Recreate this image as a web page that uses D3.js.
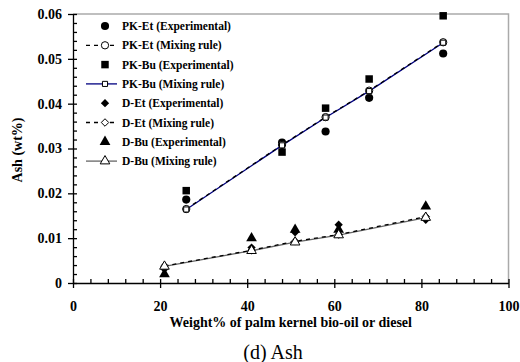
<!DOCTYPE html>
<html>
<head>
<meta charset="utf-8">
<script src="https://cdn.jsdelivr.net/npm/d3@7"></script>
<style>
  body { margin: 0; background: #fff; }
  svg text { font-family: "Liberation Serif", "Times New Roman", serif; }
  .axis text { font-size: 14px; font-weight: bold; fill: #000; }
  .axis path, .axis line { stroke: #000; stroke-width: 1.3; }
  .legend text { font-size: 11.5px; font-weight: bold; }
</style>
</head>
<body>
<svg id="chart" width="520" height="362"></svg>
<script>
// x positions (weight % of bio-oil or diesel)
var pkX = [26, 48, 58, 68, 85];
var dX = [21, 41, 51, 61, 81];

// ash content, wt%
var pkEtExp = [0.0186, 0.0313, 0.0338, 0.0413, 0.0512];
var pkEtMix = [0.0165, 0.0308, 0.0370, 0.0429, 0.0537];
var pkBuExp = [0.0206, 0.0292, 0.0390, 0.0455, 0.0596];
var pkBuMix = [0.0164, 0.0307, 0.0369, 0.0428, 0.0536];
var dEtExp = [0.0031, 0.0079, 0.0113, 0.0130, 0.0141];
var dEtMix = [0.0038, 0.0073, 0.0093, 0.0108, 0.0148];
var dBuExp = [0.0020, 0.0100, 0.0119, 0.0119, 0.0171];
var dBuMix = [0.0037, 0.0072, 0.0091, 0.0107, 0.0146];

var xTicks = [0, 20, 40, 60, 80, 100];
var yTicks = [0, 0.01, 0.02, 0.03, 0.04, 0.05, 0.06];

var seriesNames = [
  "PK-Et (Experimental)", "PK-Et (Mixing rule)",
  "PK-Bu (Experimental)", "PK-Bu (Mixing rule)",
  "D-Et (Experimental)", "D-Et (Mixing rule)",
  "D-Bu (Experimental)", "D-Bu (Mixing rule)"
];

(function() {
  var svg = d3.select("#chart");

  // plot box (note: "top" is a reserved window name, so use plot* names)
  var plotL = 73, plotR = 508.5, plotT = 14, plotB = 283;

  var x = d3.scaleLinear().domain([0, 100]).range([plotL, plotR]);
  var y = d3.scaleLinear().domain([0, 0.06]).range([plotB, plotT]);

  // series styles: symbol, filled, line
  var series = [
    { name: seriesNames[0], xs: pkX, ys: pkEtExp, sym: d3.symbolCircle, size: 52, fill: true },
    { name: seriesNames[1], xs: pkX, ys: pkEtMix, sym: d3.symbolCircle, size: 42, fill: false, line: "#000", dash: "4,4" },
    { name: seriesNames[2], xs: pkX, ys: pkBuExp, sym: d3.symbolSquare, size: 56, fill: true },
    { name: seriesNames[3], xs: pkX, ys: pkBuMix, sym: d3.symbolSquare, size: 26, fill: false, line: "#000080" },
    { name: seriesNames[4], xs: dX, ys: dEtExp, sym: d3.symbolDiamond2, size: 44, fill: true },
    { name: seriesNames[5], xs: dX, ys: dEtMix, sym: d3.symbolDiamond2, size: 36, fill: false, line: "#000", dash: "4,4" },
    { name: seriesNames[6], xs: dX, ys: dBuExp, sym: d3.symbolTriangle, size: 50, fill: true },
    { name: seriesNames[7], xs: dX, ys: dBuMix, sym: d3.symbolTriangle, size: 40, fill: false, line: "#666" }
  ];

  // frame (top and right, gray)
  svg.append("path")
    .attr("d", "M" + plotL + "," + plotT + "H" + plotR + "V" + plotB)
    .attr("fill", "none")
    .attr("stroke", "#aaa")
    .attr("stroke-width", 1.5);

  // minor ticks, drawn inside
  svg.append("g")
    .attr("class", "axis")
    .attr("transform", "translate(0," + plotB + ")")
    .call(d3.axisBottom(x).tickValues(d3.range(0, 101, 4)).tickSize(-4).tickFormat(""))
    .call(function(g) { g.select(".domain").remove(); });

  svg.append("g")
    .attr("class", "axis")
    .attr("transform", "translate(" + plotL + ",0)")
    .call(d3.axisLeft(y).tickValues(d3.range(0, 0.0601, 0.002)).tickSize(-4).tickFormat(""))
    .call(function(g) { g.select(".domain").remove(); });

  // major axes
  svg.append("g")
    .attr("class", "axis")
    .attr("transform", "translate(0," + plotB + ")")
    .call(d3.axisBottom(x).tickValues(xTicks).tickSizeInner(5).tickSizeOuter(0).tickPadding(13));

  svg.append("g")
    .attr("class", "axis")
    .attr("transform", "translate(" + plotL + ",0)")
    .call(d3.axisLeft(y).tickValues(yTicks).tickSizeInner(5).tickSizeOuter(0).tickPadding(6)
      .tickFormat(function(d) { return d === 0 ? "0" : d3.format(".2f")(d); }));

  // axis titles
  svg.append("text")
    .attr("x", (plotL + plotR) / 2)
    .attr("y", 327)
    .attr("text-anchor", "middle")
    .style("font-size", "14px")
    .style("font-weight", "bold")
    .text("Weight% of palm kernel bio-oil or diesel");

  svg.append("text")
    .attr("transform", "translate(22,150) rotate(-90)")
    .attr("text-anchor", "middle")
    .style("font-size", "14px")
    .style("font-weight", "bold")
    .text("Ash (wt%)");

  // caption sits a little left of the plot centre
  svg.append("text")
    .attr("x", 273)
    .attr("y", 359)
    .attr("text-anchor", "middle")
    .style("font-size", "20px")
    .text("(d) Ash");

  // mixing rule lines
  var line = d3.line()
    .x(function(d) { return x(d[0]); })
    .y(function(d) { return y(d[1]); });

  // solid lines first, dashed over them
  [3, 7, 1, 5].forEach(function(i) {
    var s = series[i];
    svg.append("path")
      .datum(d3.zip(s.xs, s.ys))
      .attr("d", line)
      .attr("fill", "none")
      .attr("stroke", s.line)
      .attr("stroke-width", 1.3)
      .attr("stroke-dasharray", s.dash || null);
  });

  // markers
  series.forEach(function(s) {
    svg.append("g")
      .selectAll("path")
      .data(d3.zip(s.xs, s.ys))
      .enter().append("path")
      .attr("transform", function(d) { return "translate(" + x(d[0]) + "," + y(d[1]) + ")"; })
      .attr("d", d3.symbol().type(s.sym).size(s.size))
      .attr("fill", s.fill ? "#000" : "#fff")
      .attr("stroke", "#000")
      .attr("stroke-width", s.fill ? 0 : 1);
  });

  // legend
  var legend = svg.append("g")
    .attr("class", "legend")
    .attr("transform", "translate(0,26)");

  var row = legend.selectAll("g")
    .data(series)
    .enter().append("g")
    .attr("transform", function(d, i) { return "translate(0," + (i * 19.3) + ")"; });

  row.filter(function(d) { return d.line; })
    .append("line")
    .attr("x1", 86).attr("x2", 117)
    .attr("stroke", function(d) { return d.line; })
    .attr("stroke-width", 1.3)
    .attr("stroke-dasharray", function(d) { return d.dash || null; });

  row.append("path")
    .attr("transform", "translate(105,0)")
    .attr("d", function(d) { return d3.symbol().type(d.sym).size(d.size)(); })
    .attr("fill", function(d) { return d.fill ? "#000" : "#fff"; })
    .attr("stroke", "#000")
    .attr("stroke-width", function(d) { return d.fill ? 0 : 1; });

  row.append("text")
    .attr("x", 122)
    .attr("dy", "0.35em")
    .text(function(d) { return d.name; });
})();
</script>
</body>
</html>
